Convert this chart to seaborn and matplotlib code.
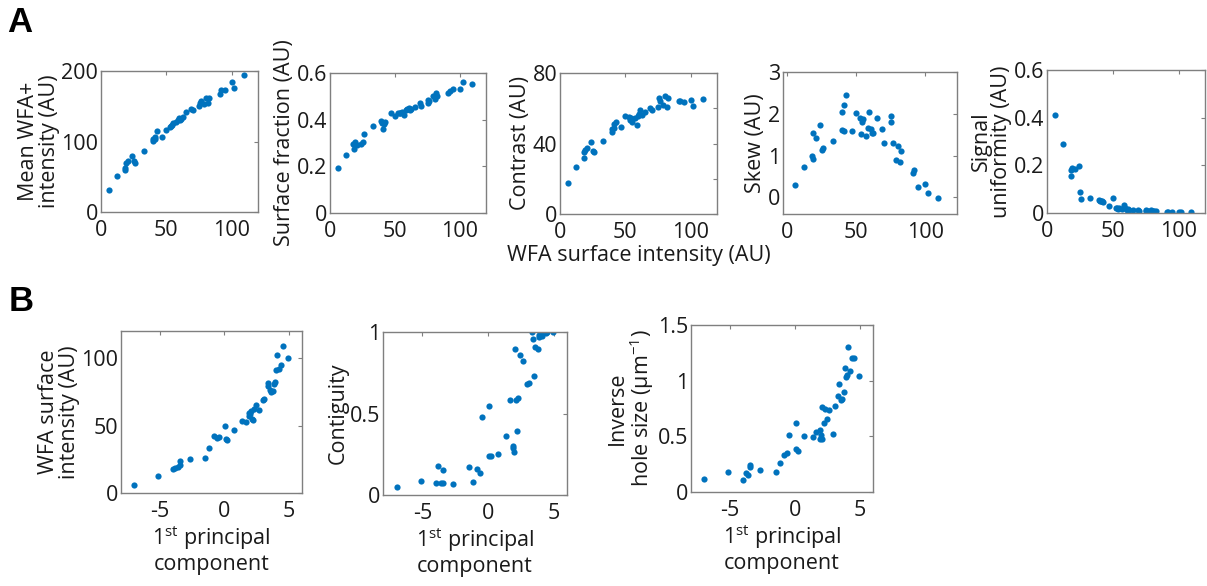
import numpy as np
import pandas as pd
import matplotlib
matplotlib.use("Agg")
import matplotlib.pyplot as plt
import seaborn as sns

# ---------------- data ----------------
wfa_intensity = [6, 12.5, 18, 18.5, 19, 21, 24, 25, 26, 33, 39.5, 40, 41, 41.5, 42.5,
                 47, 50, 52.5, 53.5, 54, 55, 57, 58.5, 59.5, 60.5, 61.5, 62.5, 65, 69, 70,
                 75, 75.5, 76.5, 79, 80.5, 81.5, 82.5, 91, 92, 95, 100, 102, 109]
mean_wfa = [31, 51, 60, 63, 70, 72, 80, 72, 70, 87, 101, 104, 107, 103, 115,
            107, 117, 120, 122, 124, 126, 128, 131, 134, 131, 132, 135, 142, 146, 144,
            150, 154, 158, 153, 161, 155, 162, 167, 173, 173, 184, 176, 194]
surface_fraction = [0.194, 0.248, 0.296, 0.273, 0.306, 0.290, 0.296, 0.306, 0.340, 0.373, 0.394, 0.385, 0.362, 0.380, 0.390,
                    0.430, 0.415, 0.430, 0.427, 0.430, 0.435, 0.420, 0.440, 0.445, 0.450, 0.440, 0.445, 0.455, 0.470, 0.460,
                    0.470, 0.485, 0.480, 0.500, 0.490, 0.516, 0.500, 0.516, 0.524, 0.530, 0.530, 0.562, 0.552]
contrast = [17.4, 26.9, 31.7, 35.4, 36.4, 37.3, 41.1, 35.5, 35.0, 41.5, 46.8, 48.0, 48.7, 51, 52,
            49.3, 55.4, 54.8, 53.5, 54.4, 52, 54.4, 50.6, 55.4, 57, 59, 56.3, 58, 60, 59,
            60.7, 65.8, 63.9, 62, 66.7, 60.7, 65.8, 64, 63.9, 63.3, 64.8, 61.4, 65.2]
skew = [0.29, 0.72, 0.98, 0.92, 1.54, 1.43, 1.72, 1.14, 1.19, 1.35, 2.04, 1.61, 1.58, 2.20, 2.45,
        1.58, 2.02, 1.89, 1.51, 1.80, 1.87, 1.46, 1.67, 2.05, 1.63, 1.55, 1.53, 1.89, 1.63, 1.29,
        1.94, 1.80, 1.31, 0.90, 1.24, 0.84, 1.11, 0.58, 0.65, 0.25, 0.31, 0.11, -0.02]
signal_uniformity = [0.41, 0.29, 0.155, 0.18, 0.19, 0.185, 0.196, 0.088, 0.058, 0.063, 0.055, 0.051, 0.05, 0.052, 0.048,
                     0.03, 0.065, 0.023, 0.019, 0.017, 0.02, 0.017, 0.033, 0.023, 0.014, 0.017, 0.014, 0.012, 0.012, 0.01,
                     0.012, 0.01, 0.01, 0.012, 0.01, 0.009, 0.008, 0.006, 0.005, 0.006, 0.005, 0.004, 0.003]
pc1 = [-6.97, -5.14, -3.97, -3.8, -3.6, -3.45, -3.45, -2.66, -1.49, -1.17, 0.2, 0.1, -0.6, -0.44, -0.84,
       0.73, 0.08, 1.64, 1.38, 2.2, 2.1, 1.9, 2.0, 1.9, 2.05, 2.64, 2.3, 2.43, 2.95, 3.08,
       3.6, 3.79, 3.5, 3.34, 3.86, 3.4, 3.9, 4.0, 4.2, 4.39, 4.9, 4.1, 4.5]
contiguity = [0.047, 0.087, 0.076, 0.175, 0.076, 0.155, 0.076, 0.066, 0.169, 0.082, 0.237, 0.241, 0.138, 0.478, 0.159,
              0.254, 0.546, 0.581, 0.361, 0.392, 0.581, 0.289, 0.262, 0.303, 0.893, 0.825, 0.598, 0.856, 0.68, 0.685,
              0.907, 0.897, 0.73, 1.0, 0.97, 0.96, 0.98, 0.99, 1.0, 0.995, 1.0, 0.975, 1.0]
inverse_hole_size = [0.119, 0.18, 0.11, 0.17, 0.15, 0.226, 0.247, 0.195, 0.18, 0.262, 0.372, 0.384, 0.35, 0.515, 0.33,
                     0.506, 0.62, 0.537, 0.494, 0.62, 0.76, 0.476, 0.515, 0.56, 0.476, 0.738, 0.744, 0.652, 0.524, 0.774,
                     0.835, 0.896, 0.83, 0.866, 1.11, 0.973, 1.03, 1.05, 1.085, 1.207, 1.043, 1.3, 1.2]

df = pd.DataFrame({
    "wfa": wfa_intensity, "mean_wfa": mean_wfa, "surf": surface_fraction,
    "contrast": contrast, "skew": skew, "unif": signal_uniformity,
    "pc1": pc1, "contig": contiguity, "ihs": inverse_hole_size,
})

# ---------------- style ----------------
sns.set_theme(style="white")
FONT = "Open Sans"
plt.rcParams["font.family"] = [FONT, "DejaVu Sans"]
plt.rcParams["mathtext.fontset"] = "custom"
plt.rcParams["mathtext.rm"] = FONT
plt.rcParams["mathtext.it"] = FONT
plt.rcParams["mathtext.bf"] = FONT
plt.rcParams["axes.unicode_minus"] = False

W, H = 1207, 586
fig = plt.figure(figsize=(W / 100, H / 100), dpi=100)

DOT = "#0072BD"
SPINE = "#7f7f7f"
TXT = "#1a1a1a"
FS = 15.5


def add_ax(l, r, t, b):
    return fig.add_axes([l / W, 1 - b / H, (r - l) / W, (b - t) / H])


def style(ax, xlim, ylim, xticks, yticks, ylabels=None, ylabel="", xlabel=""):
    ax.set_xlim(*xlim)
    ax.set_ylim(*ylim)
    ax.set_xticks(xticks)
    ax.set_yticks(yticks)
    if ylabels is not None:
        ax.set_yticklabels(ylabels)
    for s in ax.spines.values():
        s.set_visible(True)
        s.set_color(SPINE)
        s.set_linewidth(1.0)
    ax.tick_params(direction="in", length=3, width=0.8, color=SPINE,
                   top=True, right=True, labelsize=FS, labelcolor=TXT)
    ax.tick_params(axis="y", pad=2)
    ax.tick_params(axis="x", pad=6)
    ax.set_ylabel(ylabel, fontsize=FS, color=TXT, labelpad=1, linespacing=1.0)
    ax.set_xlabel(xlabel, fontsize=FS, color=TXT, labelpad=1, linespacing=1.15)
    ax.grid(False)


def scatter(ax, x, y):
    sns.scatterplot(data=df, x=x, y=y, ax=ax, color=DOT, s=20, linewidth=0, legend=False)


# Row A
ax = add_ax(101, 258, 71, 212)
scatter(ax, "wfa", "mean_wfa")
style(ax, (0, 120), (0, 200), [0, 50, 100], [0, 100, 200], ylabel="Mean WFA+\nintensity (AU)")

ax = add_ax(330, 486, 73, 213)
scatter(ax, "wfa", "surf")
style(ax, (0, 120), (0, 0.6), [0, 50, 100], [0, 0.2, 0.4, 0.6], ["0", "0.2", "0.4", "0.6"],
      ylabel="Surface fraction (AU)")

ax = add_ax(560, 717, 73, 214)
scatter(ax, "wfa", "contrast")
style(ax, (0, 120), (0, 80), [0, 50, 100], [0, 20, 40, 60, 80], ["0", "", "40", "", "80"],
      ylabel="Contrast (AU)", xlabel="WFA surface intensity (AU)")

ax = add_ax(783, 957, 72, 214)
scatter(ax, "wfa", "skew")
style(ax, (-3, 123), (-0.4, 3), [0, 50, 100], [0, 1, 2, 3], ["0", "1", "2", "3"],
      ylabel="Skew (AU)")

ax = add_ax(1047, 1205, 70, 213)
scatter(ax, "wfa", "unif")
style(ax, (0, 120), (0, 0.6), [0, 50, 100], [0, 0.2, 0.4, 0.6], ["0", "0.2", "0.4", "0.6"],
      ylabel="Signal\nuniformity (AU)")

# Row B
pc_label = "1$^{\\mathrm{st}}$ principal\ncomponent"
ax = add_ax(121, 302, 331, 493)
scatter(ax, "pc1", "wfa")
style(ax, (-8, 6), (0, 120), [-5, 0, 5], [0, 50, 100], ylabel="WFA surface\nintensity (AU)",
      xlabel=pc_label)

ax = add_ax(383, 567, 332, 495)
scatter(ax, "pc1", "contig")
style(ax, (-8, 6), (0, 1), [-5, 0, 5], [0, 0.5, 1], ["0", "0.5", "1"], ylabel="Contiguity",
      xlabel=pc_label)

ax = add_ax(691, 873, 325, 492)
scatter(ax, "pc1", "ihs")
style(ax, (-8, 6), (0, 1.5), [-5, 0, 5], [0, 0.5, 1, 1.5], ["0", "0.5", "1", "1.5"],
      ylabel="Inverse\nhole size (μm$^{-1}$)", xlabel=pc_label)

# Panel letters
fig.text(7 / W, 1 - 6 / H, "A", fontsize=25, fontweight="bold", family="Liberation Sans",
         va="top", ha="left", color="black")
fig.text(9 / W, 1 - 285 / H, "B", fontsize=25, fontweight="bold", family="Liberation Sans",
         va="top", ha="left", color="black")

fig.savefig("out.png", dpi=100, facecolor="white")
